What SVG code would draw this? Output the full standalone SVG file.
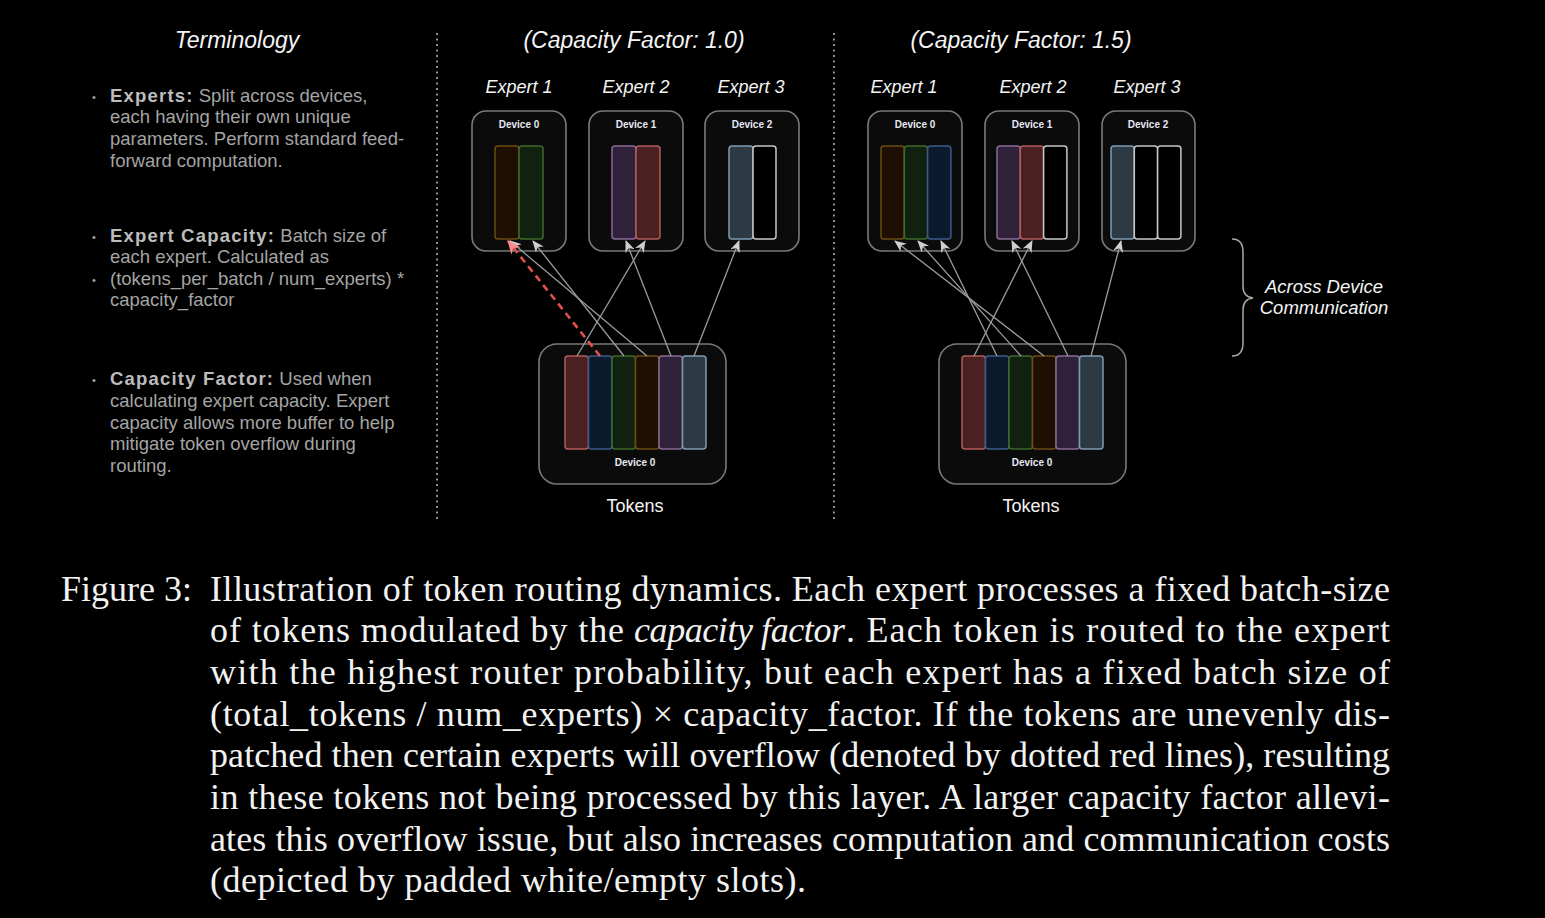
<svg xmlns="http://www.w3.org/2000/svg" width="1545" height="918" viewBox="0 0 1545 918">
<defs>
<style>
.bg{fill:#000}
.box{fill:#0b0b0b;stroke:#7a7a7a;stroke-width:1.6}
.s{stroke-width:1.5}
.br{fill:#1e0f02;stroke:#6e4c12}
.gr{fill:#10220f;stroke:#3f6a2c}
.bl{fill:#0b1a2d;stroke:#3c5c8c}
.pu{fill:#2f2139;stroke:#8a6a98}
.rd{fill:#4a2020;stroke:#b35c5c}
.sl{fill:#2d3a44;stroke:#7c9cb2}
.em{fill:#000;stroke:#c8c8c8}
.title{font-family:"Liberation Sans",Arial,sans-serif;font-style:italic;font-size:23px;fill:#f4f4f4;text-anchor:middle}
.exp{font-family:"Liberation Sans",Arial,sans-serif;font-style:italic;font-size:18px;fill:#f4f4f4;text-anchor:middle}
.acr{font-size:18.5px}
.dev{font-family:"Liberation Sans",Arial,sans-serif;font-weight:bold;font-size:10px;fill:#e6e8f2;text-anchor:middle}
.tok{font-family:"Liberation Sans",Arial,sans-serif;font-size:18px;fill:#f4f4f4;text-anchor:middle}
.body{font-family:"Liberation Sans",Arial,sans-serif;font-size:18.5px;fill:#a4a4a4}
.body .b{font-weight:bold;fill:#bcbcbc;letter-spacing:1.2px}
.bul{font-family:"Liberation Sans",Arial,sans-serif;font-size:11px;fill:#a4a4a4}
.cap{font-family:"Liberation Serif","Times New Roman",serif;font-size:36px;fill:#f2f2f2}
.it{font-style:italic}
.ar{stroke:#9c9c9c;stroke-width:1.3;fill:none;marker-end:url(#ah)}
.ov{stroke:#e25050;stroke-width:2.6;stroke-dasharray:7 5;fill:none;marker-end:url(#ahr)}
.sep{stroke:#bdbdbd;stroke-width:1.5;stroke-dasharray:2 3.5}
</style>
<marker id="ah" viewBox="0 0 12 10" refX="11" refY="5" markerWidth="12" markerHeight="10" markerUnits="userSpaceOnUse" orient="auto">
<path d="M0,0 L12,5 L0,10 L3.5,5 z" fill="#cfcfcf"/>
</marker>
<marker id="ahr" viewBox="0 0 12 10" refX="11" refY="5" markerWidth="14" markerHeight="12" markerUnits="userSpaceOnUse" orient="auto">
<path d="M0,0 L12,5 L0,10 L3.5,5 z" fill="#ff8a8a"/>
</marker>
</defs>
<rect class="bg" x="0" y="0" width="1545" height="918"/>

<g id="terminology">
<text class="title" x="237" y="48">Terminology</text>
<text class="bul" x="92" y="101">•</text>
<text class="body" x="110" y="102"><tspan class="b">Experts:</tspan> Split across devices,</text>
<text class="body" x="110" y="123">each having their own unique</text>
<text class="body" x="110" y="145">parameters. Perform standard feed-</text>
<text class="body" x="110" y="167">forward computation.</text>
<text class="bul" x="92" y="241">•</text>
<text class="body" x="110" y="242"><tspan class="b">Expert Capacity:</tspan> Batch size of</text>
<text class="body" x="110" y="263">each expert. Calculated as</text>
<text class="bul" x="92" y="284">•</text>
<text class="body" x="110" y="285">(tokens_per_batch / num_experts) *</text>
<text class="body" x="110" y="306">capacity_factor</text>
<text class="bul" x="92" y="384">•</text>
<text class="body" x="110" y="385"><tspan class="b">Capacity Factor:</tspan> Used when</text>
<text class="body" x="110" y="407">calculating expert capacity. Expert</text>
<text class="body" x="110" y="429">capacity allows more buffer to help</text>
<text class="body" x="110" y="450">mitigate token overflow during</text>
<text class="body" x="110" y="472">routing.</text>
</g>

<g id="separators">
<line class="sep" x1="437" y1="33" x2="437" y2="519"/>
<line class="sep" x1="834" y1="33" x2="834" y2="519"/>
</g>

<g id="cf10-title"><text class="title" x="634" y="48">(Capacity Factor: 1.0)</text></g>
<g id="cf15-title"><text class="title" x="1021" y="48">(Capacity Factor: 1.5)</text></g>

<g id="cf10-expert1">
<text class="exp" x="519" y="93">Expert 1</text>
<rect class="box" x="472" y="111" width="94" height="140" rx="14"/>
<text class="dev" x="519" y="128">Device 0</text>
<rect class="br s" x="495" y="146" width="24" height="93" rx="3"/>
<rect class="gr s" x="519" y="146" width="24" height="93" rx="3"/>
</g>
<g id="cf10-expert2">
<text class="exp" x="636" y="93">Expert 2</text>
<rect class="box" x="589" y="111" width="94" height="140" rx="14"/>
<text class="dev" x="636" y="128">Device 1</text>
<rect class="pu s" x="612" y="146" width="24" height="93" rx="3"/>
<rect class="rd s" x="636" y="146" width="24" height="93" rx="3"/>
</g>
<g id="cf10-expert3">
<text class="exp" x="751" y="93">Expert 3</text>
<rect class="box" x="705" y="111" width="94" height="140" rx="14"/>
<text class="dev" x="752" y="128">Device 2</text>
<rect class="sl s" x="729" y="146" width="24" height="93" rx="3"/>
<rect class="em s" x="753" y="146" width="23" height="93" rx="3"/>
</g>
<g id="cf10-tokens">
<rect class="box" x="539" y="344" width="187" height="140" rx="18"/>
<rect class="rd s" x="565" y="356" width="23.5" height="93" rx="3"/>
<rect class="bl s" x="588.5" y="356" width="23.5" height="93" rx="3"/>
<rect class="gr s" x="612" y="356" width="23.5" height="93" rx="3"/>
<rect class="br s" x="635.5" y="356" width="23.5" height="93" rx="3"/>
<rect class="pu s" x="659" y="356" width="23.5" height="93" rx="3"/>
<rect class="sl s" x="682.5" y="356" width="23.5" height="93" rx="3"/>
<text class="dev" x="635" y="466">Device 0</text>
<text class="tok" x="635" y="512">Tokens</text>
</g>

<g id="cf15-expert1">
<text class="exp" x="904" y="93">Expert 1</text>
<rect class="box" x="868" y="111" width="94" height="140" rx="14"/>
<text class="dev" x="915" y="128">Device 0</text>
<rect class="br s" x="881" y="146" width="23.3" height="93" rx="3"/>
<rect class="gr s" x="904.3" y="146" width="23.3" height="93" rx="3"/>
<rect class="bl s" x="927.6" y="146" width="23.3" height="93" rx="3"/>
</g>
<g id="cf15-expert2">
<text class="exp" x="1033" y="93">Expert 2</text>
<rect class="box" x="985" y="111" width="94" height="140" rx="14"/>
<text class="dev" x="1032" y="128">Device 1</text>
<rect class="pu s" x="997" y="146" width="23.3" height="93" rx="3"/>
<rect class="rd s" x="1020.3" y="146" width="23.3" height="93" rx="3"/>
<rect class="em s" x="1043.6" y="146" width="23.3" height="93" rx="3"/>
</g>
<g id="cf15-expert3">
<text class="exp" x="1147" y="93">Expert 3</text>
<rect class="box" x="1102" y="111" width="93" height="140" rx="14"/>
<text class="dev" x="1148" y="128">Device 2</text>
<rect class="sl s" x="1111" y="146" width="23.3" height="93" rx="3"/>
<rect class="em s" x="1134.3" y="146" width="23.3" height="93" rx="3"/>
<rect class="em s" x="1157.6" y="146" width="23.3" height="93" rx="3"/>
</g>
<g id="cf15-tokens">
<rect class="box" x="939" y="344" width="187" height="140" rx="18"/>
<rect class="rd s" x="962" y="356" width="23.5" height="93" rx="3"/>
<rect class="bl s" x="985.5" y="356" width="23.5" height="93" rx="3"/>
<rect class="gr s" x="1009" y="356" width="23.5" height="93" rx="3"/>
<rect class="br s" x="1032.5" y="356" width="23.5" height="93" rx="3"/>
<rect class="pu s" x="1056" y="356" width="23.5" height="93" rx="3"/>
<rect class="sl s" x="1079.5" y="356" width="23.5" height="93" rx="3"/>
<text class="dev" x="1032" y="466">Device 0</text>
<text class="tok" x="1031" y="512">Tokens</text>
</g>

<g id="connectors">
<line class="ar" x1="647" y1="356" x2="510" y2="241"/>
<line class="ar" x1="624" y1="356" x2="533" y2="241"/>
<line class="ar" x1="577" y1="356" x2="645" y2="241"/>
<line class="ar" x1="671" y1="356" x2="626" y2="241"/>
<line class="ar" x1="694" y1="356" x2="739" y2="241"/>
<line class="ov" x1="600" y1="356" x2="508" y2="241"/>
<line class="ar" x1="1044" y1="356" x2="895" y2="241"/>
<line class="ar" x1="1021" y1="356" x2="918" y2="241"/>
<line class="ar" x1="997" y1="356" x2="941" y2="241"/>
<line class="ar" x1="974" y1="356" x2="1032" y2="241"/>
<line class="ar" x1="1068" y1="356" x2="1012" y2="241"/>
<line class="ar" x1="1091" y1="356" x2="1121" y2="241"/>
</g>

<g id="brace">
<path d="M1232,239 Q1243,239 1243,252 L1243,286 Q1243,297 1253,298 Q1243,299 1243,310 L1243,343 Q1243,356 1232,356" fill="none" stroke="#a8a8a8" stroke-width="1.5"/>
<text class="exp acr" x="1324" y="293">Across Device</text>
<text class="exp acr" x="1324" y="314">Communication</text>
</g>

<g id="caption">
<text class="cap" x="61" y="601">Figure 3:</text>
<text class="cap" x="210" y="601" textLength="1180" lengthAdjust="spacing">Illustration of token routing dynamics. Each expert processes a fixed batch-size</text>
<text class="cap" x="210" y="642" textLength="414" lengthAdjust="spacing">of tokens modulated by the</text>
<text class="cap it" x="634" y="642" textLength="211" lengthAdjust="spacing">capacity factor</text>
<text class="cap" x="846" y="642" textLength="544" lengthAdjust="spacing">. Each token is routed to the expert</text>
<text class="cap" x="210" y="684" textLength="1180" lengthAdjust="spacing">with the highest router probability, but each expert has a fixed batch size of</text>
<text class="cap" x="210" y="726" textLength="1180" lengthAdjust="spacing">(total_tokens / num_experts) × capacity_factor. If the tokens are unevenly dis-</text>
<text class="cap" x="210" y="767" textLength="1180" lengthAdjust="spacing">patched then certain experts will overflow (denoted by dotted red lines), resulting</text>
<text class="cap" x="210" y="809" textLength="1180" lengthAdjust="spacing">in these tokens not being processed by this layer. A larger capacity factor allevi-</text>
<text class="cap" x="210" y="851" textLength="1180" lengthAdjust="spacing">ates this overflow issue, but also increases computation and communication costs</text>
<text class="cap" x="210" y="892" textLength="596" lengthAdjust="spacing">(depicted by padded white/empty slots).</text>
</g>
</svg>
